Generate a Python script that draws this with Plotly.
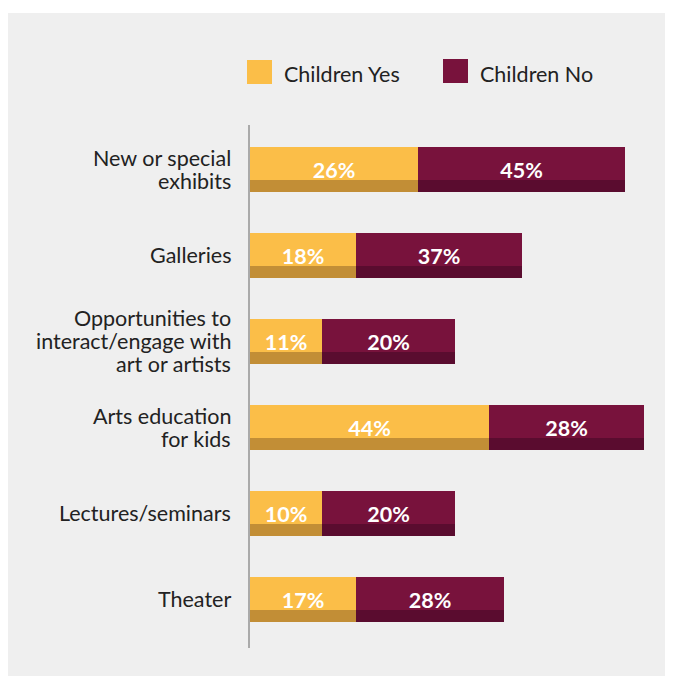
import plotly.graph_objects as go

# ---- data ----
categories = [
    "New or special<br>exhibits",
    "Galleries",
    "Opportunities to<br>interact/engage with<br>art or artists",
    "Arts education<br>for kids",
    "Lectures/seminars",
    "Theater",
]
series_names = ["Children Yes", "Children No"]
yes_labels = [26, 18, 11, 44, 10, 17]          # printed percentages
no_labels = [45, 37, 20, 28, 20, 28]
# drawn segment lengths (chart units)
yes_len = [28.0, 17.7, 12.0, 39.8, 12.0, 17.7]
no_len = [34.5, 27.7, 22.2, 25.8, 22.2, 24.7]

# ---- style ----
YEL, YEL_D = "#FBBE48", "#C28E36"
MAR, MAR_D = "#78123C", "#5A0C2F"
BG = "#EFEFEF"
FONT = "Lato"
TXT = "#222222"
FS = 21.5
OFF = 8                      # page body margin
W, H = 665, 668
ML, MR, MT, MB = 242, 3, 117, 28
PW, PH = W - ML - MR, H - MT - MB

def px(x):                   # screen x -> paper
    return (x - OFF - ML) / PW

def py(y):                   # screen y -> paper
    return (H - MB - (y - OFF)) / PH

ypos = list(range(len(categories)))
BW = 0.523
SW = 0.14
SOFF = 0.192

fig = go.Figure()
label_font = dict(color="white", size=FS, family=FONT, weight="bold")
fig.add_bar(y=ypos, x=yes_len, base=0, orientation="h", width=BW,
            marker=dict(color=YEL, line=dict(width=0)),
            text=[f"{v}%" for v in yes_labels], textposition="inside",
            insidetextanchor="middle", textfont=label_font,
            name=series_names[0], showlegend=False, hoverinfo="skip")
fig.add_bar(y=ypos, x=no_len, base=yes_len, orientation="h", width=BW,
            marker=dict(color=MAR, line=dict(width=0)),
            text=[f"{v}%" for v in no_labels], textposition="inside",
            insidetextanchor="middle", textfont=label_font,
            name=series_names[1], showlegend=False, hoverinfo="skip")
# darker bottom strips
sy = [p + SOFF for p in ypos]
fig.add_bar(y=sy, x=yes_len, base=0, orientation="h", width=SW,
            marker=dict(color=YEL_D, line=dict(width=0)),
            showlegend=False, hoverinfo="skip")
fig.add_bar(y=sy, x=no_len, base=yes_len, orientation="h", width=SW,
            marker=dict(color=MAR_D, line=dict(width=0)),
            showlegend=False, hoverinfo="skip")

shapes = [
    # white strip at top
    dict(type="rect", xref="paper", yref="paper", x0=-1, x1=2, y0=py(13), y1=2,
         fillcolor="white", line_width=0, layer="below"),
    # legend swatches
    dict(type="rect", xref="paper", yref="paper", x0=px(247), x1=px(272),
         y0=py(84), y1=py(60), fillcolor=YEL, line_width=0),
    dict(type="rect", xref="paper", yref="paper", x0=px(443), x1=px(468),
         y0=py(83), y1=py(59), fillcolor=MAR, line_width=0),
]
annotations = [
    dict(xref="paper", yref="paper", x=px(282), y=py(73.5), text=series_names[0],
         showarrow=False, xanchor="left", yanchor="middle",
         font=dict(family=FONT, size=FS, color=TXT)),
    dict(xref="paper", yref="paper", x=px(478), y=py(73.5), text=series_names[1],
         showarrow=False, xanchor="left", yanchor="middle",
         font=dict(family=FONT, size=FS, color=TXT)),
]
# category labels, one annotation per line for tighter line spacing
LINE = 23
for yi, cat in zip(ypos, categories):
    lines = cat.split("<br>")
    n = len(lines)
    for i, ln in enumerate(lines):
        annotations.append(dict(
            xref="paper", yref="y", x=px(233), y=yi, text=ln,
            showarrow=False, xanchor="right", yanchor="middle",
            yshift=-(i - (n - 1) / 2) * LINE,
            font=dict(family=FONT, size=FS, color=TXT)))

fig.update_layout(
    width=W, height=H, autosize=False,
    margin=dict(l=ML, r=MR, t=MT, b=MB, pad=0),
    paper_bgcolor=BG, plot_bgcolor=BG,
    barmode="overlay", bargap=0,
    shapes=shapes, annotations=annotations,
    showlegend=False,
    xaxis=dict(range=[0, PW / 6.0], visible=False, fixedrange=True),
    yaxis=dict(tickvals=ypos, showticklabels=False,
               range=[5.564, -0.517], showline=True, linecolor="#AAAAAA",
               linewidth=2, showgrid=False, zeroline=False, ticks=""),
    font=dict(family=FONT),
)

fig.write_html(
    "out.html",
    post_script="document.documentElement.style.overflow='hidden';"
                "document.body.style.overflow='hidden';",
)
